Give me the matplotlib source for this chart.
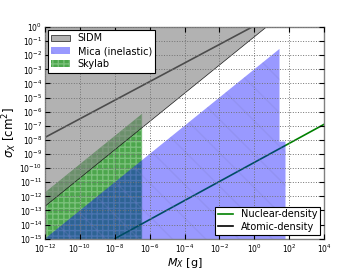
import matplotlib
matplotlib.use("Agg")
import matplotlib.pyplot as plt
import numpy as np

# ---- data ----
sidm_M = [1e-12, 4.3]
sidm_sigma_low = [2.3e-13, 1.0]
sidm_sigma_high = [1.0, 1.0]

skylab_M = [1e-12, 3.7e-7]
skylab_sigma_high = [1.9e-12, 7.1e-7]
skylab_sigma_low = [1e-16, 1e-16]

mica_M = [1e-12, 28.0, 28.0, 62.0, 62.0]
mica_sigma = [1e-15, 2.8e-2, 7.6e-9, 7.6e-9, 1e-16]

nuclear_M = [1e-8, 1e4]
nuclear_sigma = [1e-15, 1.26e-7]

atomic_M = [1e-12, 1e0]
atomic_sigma = [1.5e-8, 1.2]

xticks = [1e-12, 1e-10, 1e-8, 1e-6, 1e-4, 1e-2, 1e0, 1e2, 1e4]
yticks = [10.0 ** e for e in range(-15, 1)]

fig = plt.figure(figsize=(3.6, 2.7), dpi=100)
ax = fig.add_axes([0.125, 0.116, 0.775, 0.784])
ax.set_xscale('log')
ax.set_yscale('log')

l_nuc, = ax.plot(nuclear_M, nuclear_sigma, color='g', lw=1.2, zorder=1.5, label='Nuclear-density')
l_atom, = ax.plot(atomic_M, atomic_sigma, color='k', lw=1.2, zorder=1.5, label='Atomic-density')

f_sky = ax.fill_between(skylab_M, skylab_sigma_low, skylab_sigma_high,
                        facecolor=(0.0, 0.5, 0.0, 0.7), edgecolor=(0.7, 0.88, 0.7, 0.45),
                        hatch='+++', linewidth=0, zorder=1, label='Skylab')
f_sidm = ax.fill_between(sidm_M, sidm_sigma_low, sidm_sigma_high,
                         facecolor=(0.5, 0.5, 0.5, 0.6), edgecolor=(0.1, 0.1, 0.1),
                         linewidth=0.5, zorder=2, label='SIDM')
f_mica = ax.fill(mica_M, mica_sigma, facecolor=(0.0, 0.0, 1.0, 0.4),
                 edgecolor=(0.5, 0.5, 0.8, 0.25), hatch='\\', linewidth=0,
                 zorder=2, label='Mica (inelastic)')[0]

ax.set_xlim(1e-12, 1e4)
ax.set_ylim(1e-15, 1e0)
ax.set_xticks(xticks)
ax.set_yticks(yticks)
ax.minorticks_off()
ax.tick_params(which='both', direction='in', top=True, right=True, labelsize=5.5,
               length=3.5, width=0.8, color='k')
ax.tick_params(axis='x', pad=3.0)
ax.tick_params(axis='y', pad=2)
ax.grid(True, color='0.45', linestyle=':', linewidth=0.7)
ax.set_axisbelow(False)
for s in ax.spines.values():
    s.set_color('0.5')
    s.set_linewidth(1.0)

ax.set_xlabel(r'$M_X$ [g]', fontsize=8, labelpad=0.3)
ax.set_ylabel(r'$\sigma_X$ [cm$^2$]', fontsize=8.5, labelpad=0)

leg1 = ax.legend([f_sidm, f_mica, f_sky], ['SIDM', 'Mica (inelastic)', 'Skylab'],
                 loc='upper left', fontsize=7, fancybox=False, framealpha=1,
                 edgecolor='k', borderaxespad=0.3, handlelength=1.9,
                 borderpad=0.35, labelspacing=0.3, handletextpad=0.8)
leg1.get_frame().set_linewidth(0.8)
leg1.set_zorder(5)
ax.add_artist(leg1)
leg2 = ax.legend([l_nuc, l_atom], ['Nuclear-density', 'Atomic-density'],
                 loc='lower right', fontsize=7, fancybox=False, framealpha=1,
                 edgecolor='k', borderaxespad=0.4, handlelength=1.5,
                 borderpad=0.3, labelspacing=0.25, handletextpad=0.8)
leg2.get_frame().set_linewidth(0.8)
leg2.set_zorder(5)

fig.savefig('out.png', dpi=100)
